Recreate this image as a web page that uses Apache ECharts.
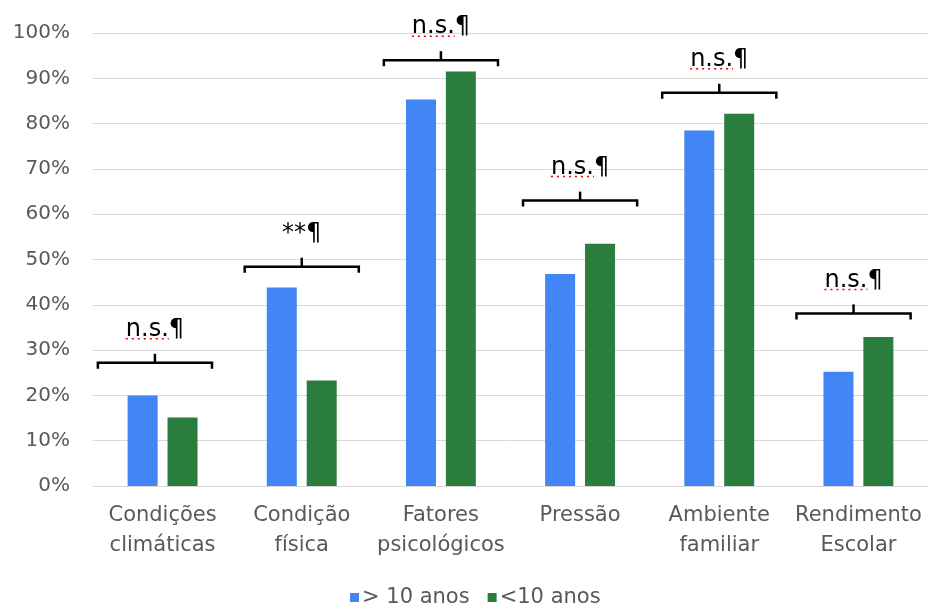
<!DOCTYPE html>
<html>
<head>
<meta charset="utf-8">
<script src="https://cdn.jsdelivr.net/npm/echarts@6/dist/echarts.min.js"></script>
<style>
html,body{margin:0;padding:0;background:#fff;}
#chart{width:929px;height:604px;}
</style>
</head>
<body>
<div id="chart"></div>
<script>
const categories = ['Condições\nclimáticas', 'Condição\nfísica', 'Fatores\npsicológicos', 'Pressão', 'Ambiente\nfamiliar', 'Rendimento\nEscolar'];
const seriesNames = ['> 10 anos', '<10 anos'];
const over10 = [20.0, 43.8, 85.3, 46.8, 78.5, 25.2];
const under10 = [15.1, 23.3, 91.5, 53.5, 82.2, 32.9];
// significance brackets: position on the category axis and height (%)
const bracketX = [-0.055, 1, 2, 3, 4, 4.965];
const bracketLevels = [27.2, 48.4, 94.0, 63.0, 86.8, 38.1];
const bracketLabels = ['n.s.¶', '**¶', 'n.s.¶', 'n.s.¶', 'n.s.¶', 'n.s.¶'];

const FONT = 'DejaVu Sans';
const chart = echarts.init(document.getElementById('chart'));

const bracketData = bracketX.map((bx, i) => [Math.round(bx), bracketLevels[i], bx - Math.round(bx)]);

chart.setOption({
  animation: false,
  backgroundColor: '#ffffff',
  color: ['#4285F4', '#2B7D3E'],
  grid: { left: 93, right: 1, top: 33, bottom: 118, containLabel: false },
  legend: {
    data: seriesNames,
    left: 345, top: 582,
    icon: 'rect', itemWidth: 9, itemHeight: 9, itemGap: 18,
    textStyle: { fontFamily: FONT, fontSize: 21, color: '#595959', padding: [0, 0, 0, -2] }
  },
  xAxis: {
    type: 'category',
    data: categories,
    axisLine: { show: true, lineStyle: { color: '#d9d9d9', width: 1 } },
    axisTick: { show: false },
    axisLabel: { interval: 0, fontFamily: FONT, fontSize: 21, color: '#595959', lineHeight: 30, margin: 15 }
  },
  yAxis: {
    type: 'value', min: 0, max: 100, interval: 10,
    axisLine: { show: false }, axisTick: { show: false },
    splitLine: { lineStyle: { color: '#d9d9d9', width: 1 } },
    axisLabel: { formatter: '{value}%', fontFamily: FONT, fontSize: 20, color: '#595959', margin: 23 }
  },
  series: [
    { name: seriesNames[0], type: 'bar', data: over10, barWidth: 30, barGap: '33%' },
    { name: seriesNames[1], type: 'bar', data: under10, barWidth: 30, barGap: '33%' },
    {
      type: 'custom',
      data: bracketData,
      z: 10,
      silent: true,
      renderItem: function (params, api) {
        const pt = api.coord([api.value(0), api.value(1)]);
        const cw = api.size([1, 0])[0];
        const half = cw * 0.41;
        const x = pt[0] + api.value(2) * cw, y = pt[1];
        const label = bracketLabels[params.dataIndex];
        const fs = 24;
        const children = [
          { type: 'polyline', shape: { points: [[x - half, y + 6], [x - half, y], [x + half, y], [x + half, y + 6]] },
            style: { stroke: '#000', lineWidth: 2.5, fill: null } },
          { type: 'line', shape: { x1: x, y1: y, x2: x, y2: y - 9 }, style: { stroke: '#000', lineWidth: 2.5 } },
          { type: 'text', style: { text: label, x: x, y: y - 33, align: 'center', verticalAlign: 'middle',
            font: fs + 'px "' + FONT + '"', fill: '#000' } }
        ];
        if (label.indexOf('n.s.') === 0) {
          const w = fs * 2.427, w1 = fs * 1.791;
          const x0 = x - w / 2;
          children.push({ type: 'line', shape: { x1: x0, y1: y - 24, x2: x0 + w1, y2: y - 24 },
            style: { stroke: '#e00000', lineWidth: 1.5, lineDash: [2, 4] } });
        }
        return { type: 'group', children: children };
      }
    }
  ]
});
</script>
</body>
</html>
